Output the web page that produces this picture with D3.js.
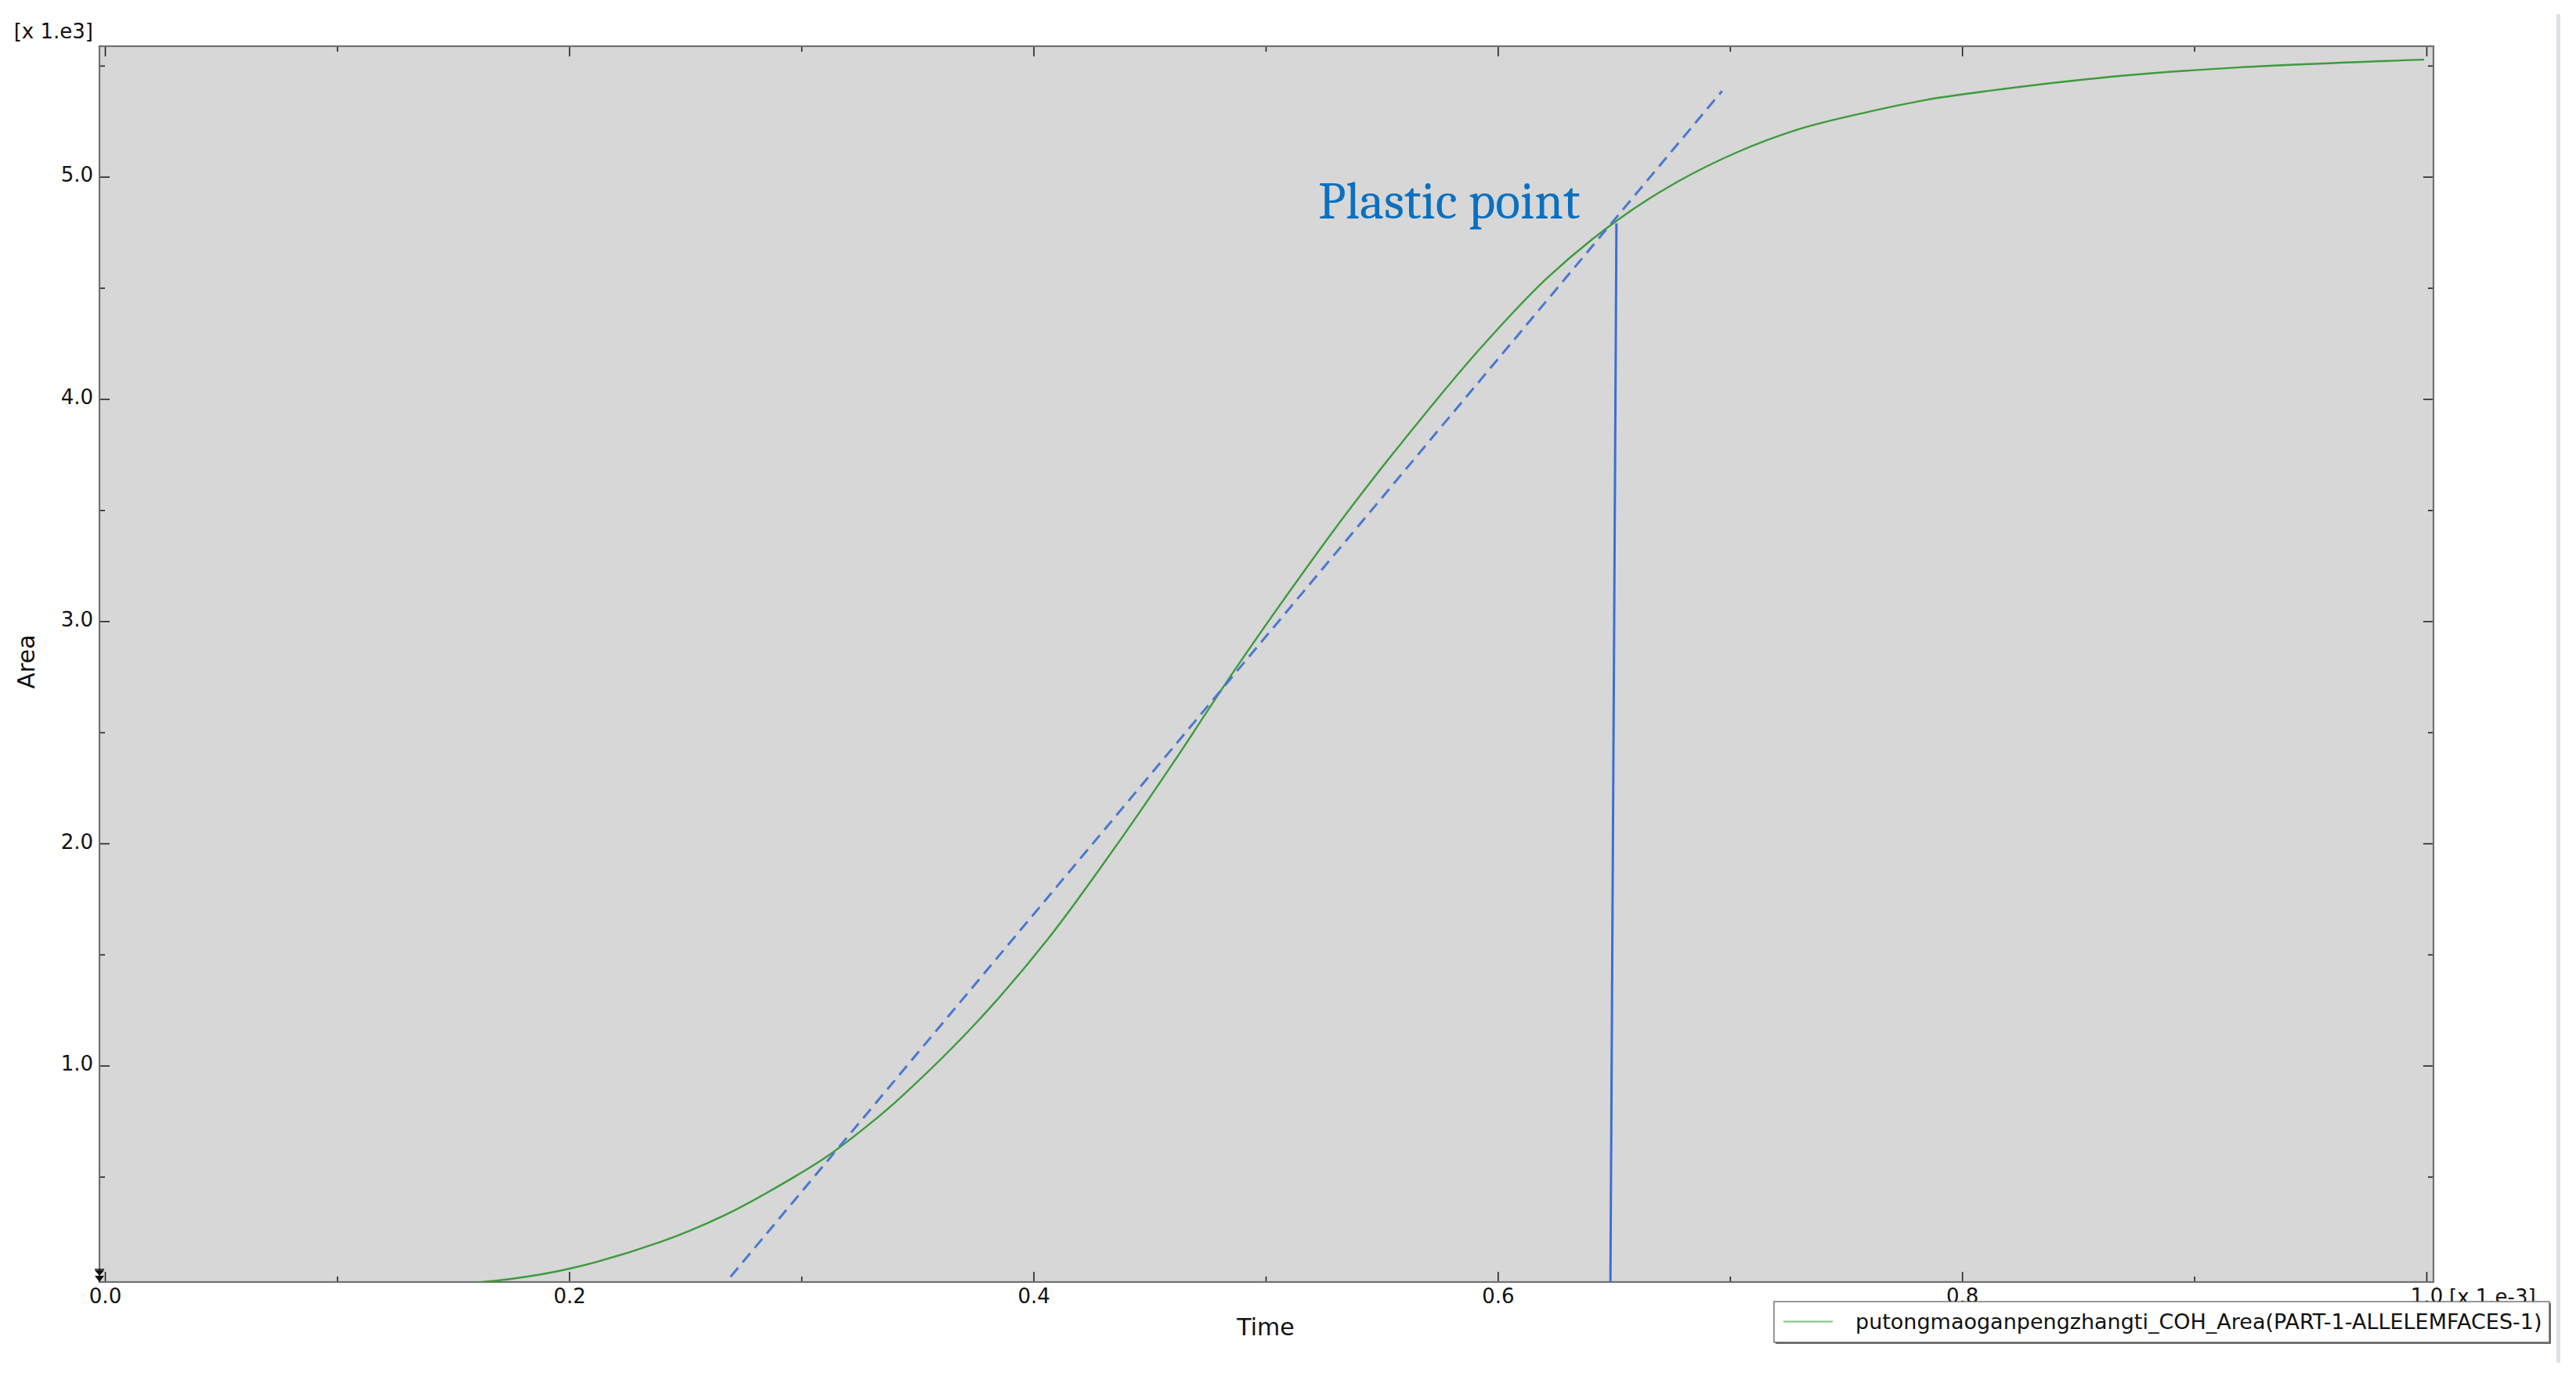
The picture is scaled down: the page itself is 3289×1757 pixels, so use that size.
<!DOCTYPE html>
<html>
<head>
<meta charset="utf-8">
<script src="https://cdn.jsdelivr.net/npm/d3@7/dist/d3.min.js"></script>
<style>
  html, body { margin: 0; padding: 0; background: #ffffff; }
  svg { display: block; }
</style>
</head>
<body>
<svg id="chart" width="3289" height="1757"></svg>
<script>
// ---- data (Time in x1e-3, Area in x1e3) ----
const timeVals = [0.150, 0.175, 0.200, 0.239, 0.267, 0.284, 0.311, 0.331, 0.343, 0.375, 0.406, 0.438, 0.460, 0.486, 0.509, 0.535, 0.567, 0.593, 0.621, 0.651, 0.677, 0.703, 0.730, 0.757, 0.784, 0.811, 0.865, 0.919, 0.999];
const areaVals = [0.015, 0.040, 0.086, 0.205, 0.327, 0.421, 0.591, 0.751, 0.859, 1.189, 1.567, 2.025, 2.360, 2.770, 3.115, 3.488, 3.912, 4.234, 4.542, 4.801, 4.975, 5.110, 5.215, 5.286, 5.345, 5.386, 5.451, 5.492, 5.527];
const tangentTime = [0.2695, 0.6966];
const tangentArea = [0.05, 5.386];
const plasticTime = [0.6485, 0.6511];
const plasticArea = [0.026, 4.79];
const xMajorTicks = [0.0, 0.2, 0.4, 0.6, 0.8, 1.0];
const xTickLabels = ["0.0", "0.2", "0.4", "0.6", "0.8", "1.0"];
const xMinorTicks = [0.1, 0.3, 0.5, 0.7, 0.9];
const yMajorTicks = [1, 2, 3, 4, 5];
const yTickLabels = ["1.0", "2.0", "3.0", "4.0", "5.0"];
const yMinorTicks = [0.5, 1.5, 2.5, 3.5, 4.5, 5.5];
const seriesName = "putongmaoganpengzhangti_COH_Area(PART-1-ALLELEMFACES-1)";
const annotationText = "Plastic point";

// ---- layout ----
const frame = { left: 127, right: 3107, top: 59, bottom: 1637 };
const x = d3.scaleLinear().domain([0, 1]).range([134, 3098]);
const y = d3.scaleLinear().domain([0, 5]).range([1644.4, 225.7]);

const svg = d3.select("#chart");
const labelFont = "'DejaVu Sans', Verdana, sans-serif";
const labelSize = 26;

// plot background
svg.append("rect")
  .attr("x", frame.left).attr("y", frame.top)
  .attr("width", frame.right - frame.left).attr("height", frame.bottom - frame.top)
  .attr("fill", "#d7d7d7");

svg.append("clipPath").attr("id", "plotClip")
  .append("rect")
  .attr("x", frame.left).attr("y", frame.top)
  .attr("width", frame.right - frame.left).attr("height", frame.bottom - frame.top);

function styleAxis(g) {
  g.select(".domain").remove();
  g.selectAll(".tick line").attr("stroke", "#222").attr("stroke-width", 1.6);
  g.selectAll(".tick text").attr("fill", "#111").attr("font-family", labelFont).attr("font-size", labelSize);
}

// bottom major / minor
svg.append("g").attr("transform", `translate(0,${frame.bottom})`)
  .call(d3.axisBottom(x).tickValues(xMajorTicks).tickSizeInner(-13).tickSizeOuter(0).tickPadding(9)
    .tickFormat((d, i) => xTickLabels[i]))
  .call(styleAxis);
svg.append("g").attr("transform", `translate(0,${frame.bottom})`)
  .call(d3.axisBottom(x).tickValues(xMinorTicks).tickSizeInner(-7).tickSizeOuter(0).tickFormat(""))
  .call(styleAxis);
// top major / minor
svg.append("g").attr("transform", `translate(0,${frame.top})`)
  .call(d3.axisTop(x).tickValues(xMajorTicks).tickSizeInner(-13).tickSizeOuter(0).tickFormat(""))
  .call(styleAxis);
svg.append("g").attr("transform", `translate(0,${frame.top})`)
  .call(d3.axisTop(x).tickValues(xMinorTicks).tickSizeInner(-7).tickSizeOuter(0).tickFormat(""))
  .call(styleAxis);
// left major / minor
const yl = svg.append("g").attr("transform", `translate(${frame.left},0)`)
  .call(d3.axisLeft(y).tickValues(yMajorTicks).tickSizeInner(-13).tickSizeOuter(0).tickPadding(8)
    .tickFormat((d, i) => yTickLabels[i]))
  .call(styleAxis);
yl.selectAll(".tick text").attr("dy", "0.24em");
svg.append("g").attr("transform", `translate(${frame.left},0)`)
  .call(d3.axisLeft(y).tickValues(yMinorTicks).tickSizeInner(-7).tickSizeOuter(0).tickFormat(""))
  .call(styleAxis);
// right major / minor
svg.append("g").attr("transform", `translate(${frame.right},0)`)
  .call(d3.axisRight(y).tickValues(yMajorTicks).tickSizeInner(-13).tickSizeOuter(0).tickFormat(""))
  .call(styleAxis);
svg.append("g").attr("transform", `translate(${frame.right},0)`)
  .call(d3.axisRight(y).tickValues(yMinorTicks).tickSizeInner(-7).tickSizeOuter(0).tickFormat(""))
  .call(styleAxis);

// frame
svg.append("rect")
  .attr("x", frame.left).attr("y", frame.top)
  .attr("width", frame.right - frame.left).attr("height", frame.bottom - frame.top)
  .attr("fill", "none").attr("stroke", "#707070").attr("stroke-width", 2.2);

// axis min-clip marker (bottom-left)
const mk = svg.append("g").attr("fill", "#111");
mk.append("path").attr("d", `M${frame.left-6},${frame.bottom-17} h12 v1.5 h-12 Z`);
mk.append("path").attr("d", `M${frame.left-6},${frame.bottom-15} L${frame.left+6},${frame.bottom-15} L${frame.left},${frame.bottom-8} Z`);
mk.append("path").attr("d", `M${frame.left-6},${frame.bottom-8} L${frame.left+6},${frame.bottom-8} L${frame.left},${frame.bottom} Z`);

// data lines
const plot = svg.append("g").attr("clip-path", "url(#plotClip)");
const curve = timeVals.map((t, i) => [t, areaVals[i]]);
plot.append("path")
  .attr("d", d3.line().x(d => x(d[0])).y(d => y(d[1])).curve(d3.curveCatmullRom.alpha(0.5))(curve))
  .attr("fill", "none").attr("stroke", "#3d9b3d").attr("stroke-width", 2.4);

plot.append("path")
  .attr("d", d3.line().x(d => x(d[0])).y(d => y(d[1]))(tangentTime.map((t, i) => [t, tangentArea[i]])))
  .attr("fill", "none").attr("stroke", "#4a78d0").attr("stroke-width", 3)
  .attr("stroke-dasharray", "15 9");

plot.append("path")
  .attr("d", d3.line().x(d => x(d[0])).y(d => y(d[1]))(plasticTime.map((t, i) => [t, plasticArea[i]])))
  .attr("fill", "none").attr("stroke", "#3b6fd3").attr("stroke-width", 3);

// annotation
svg.append("text")
  .attr("x", 1683).attr("y", 279)
  .attr("font-family", "Cambria, 'Liberation Serif', 'DejaVu Serif', serif")
  .attr("font-size", 66).attr("fill", "#0a70c0")
  .text(annotationText);

// scale factor labels
svg.append("text").attr("x", 119).attr("y", 49).attr("text-anchor", "end")
  .attr("font-family", labelFont).attr("font-size", labelSize).attr("fill", "#111").text("[x 1.e3]");
svg.append("text").attr("x", 3127).attr("y", 1665).attr("text-anchor", "start")
  .attr("font-family", labelFont).attr("font-size", labelSize).attr("fill", "#111").text("[x 1.e-3]");

// axis titles
svg.append("text").attr("x", 1616).attr("y", 1705).attr("text-anchor", "middle")
  .attr("font-family", labelFont).attr("font-size", 30).attr("fill", "#111").text("Time");
svg.append("text").attr("transform", "translate(44,845) rotate(-90)").attr("text-anchor", "middle")
  .attr("font-family", labelFont).attr("font-size", 30).attr("fill", "#111").text("Area");

// legend
const lg = svg.append("g");
lg.append("rect").attr("x", 2267).attr("y", 1664).attr("width", 990).attr("height", 52)
  .attr("fill", "#6a6a6a");
lg.append("rect").attr("x", 2265).attr("y", 1662).attr("width", 990).attr("height", 52)
  .attr("fill", "#ffffff").attr("stroke", "#555").attr("stroke-width", 1.2);
lg.append("line").attr("x1", 2277).attr("x2", 2340).attr("y1", 1687.5).attr("y2", 1687.5)
  .attr("stroke", "#7cc07c").attr("stroke-width", 2);
lg.append("text").attr("x", 2369).attr("y", 1697)
  .attr("font-family", labelFont).attr("font-size", 27).attr("fill", "#111").text(seriesName);

// right edge bar
svg.append("rect").attr("x", 3264).attr("y", 18).attr("width", 5).attr("height", 1722).attr("fill", "#dce2e5");
</script>
</body>
</html>
